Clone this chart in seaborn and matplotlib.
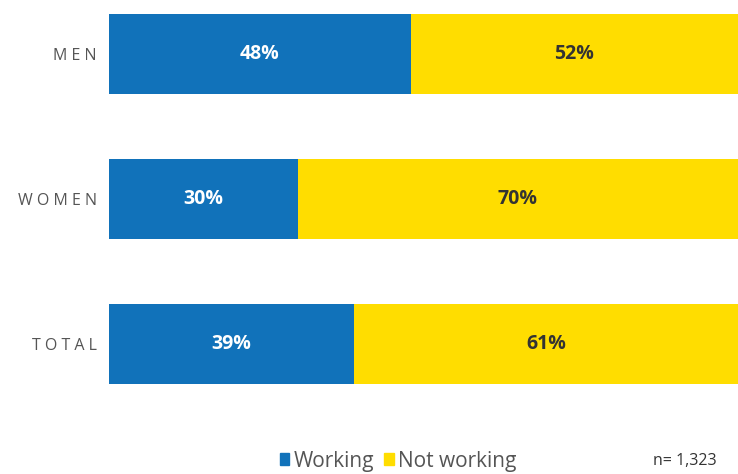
import matplotlib
matplotlib.use("Agg")
import matplotlib.pyplot as plt
from matplotlib.patches import Patch
import seaborn as sns
import pandas as pd

categories = ["MEN", "WOMEN", "TOTAL"]
working = [48, 30, 39]
not_working = [52, 70, 61]
sample_note = "n= 1,323"

BLUE = "#1172BA"
YELLOW = "#FFDD00"

sns.set_theme(style="white")
plt.rcParams["font.family"] = ["Open Sans", "DejaVu Sans"]

df = pd.DataFrame({"cat": categories, "working": working, "not_working": not_working})
df["total"] = df["working"] + df["not_working"]

fig = plt.figure(figsize=(7.38, 4.74), dpi=100)
# plotting area: from x=109px to the right edge, top edge down to 420px
ax = fig.add_axes([109 / 738, 1 - 420 / 474, 1 - 109 / 738, 420 / 474])

sns.barplot(data=df, x="total", y="cat", color=YELLOW, width=80 / 145,
            saturation=1, ax=ax, linewidth=0, orient="h")
sns.barplot(data=df, x="working", y="cat", color=BLUE, width=80 / 145,
            saturation=1, ax=ax, linewidth=0, orient="h")

ax.set_xlim(0, 100)
ax.set_ylim(2 + 76 / 145, -54 / 145)

for i, (w, n) in enumerate(zip(working, not_working)):
    ax.text(w / 2, i, f"{w}%", ha="center", va="center", color="white",
            fontsize=14, fontweight="bold")
    ax.text(w + n / 2, i, f"{n}%", ha="center", va="center", color="#333333",
            fontsize=14, fontweight="bold")

ax.set_xticks([])
ax.set_yticks(range(len(categories)))
ax.set_yticklabels([" ".join(c) for c in categories], fontsize=11.5, color="#555555")
ax.tick_params(axis="y", length=0, pad=9)
ax.set_xlabel("")
ax.set_ylabel("")
for s in ax.spines.values():
    s.set_visible(False)

handles = [Patch(color=BLUE, label="Working"), Patch(color=YELLOW, label="Not working")]
fig.legend(handles=handles, loc="center", bbox_to_anchor=(398 / 738, 1 - 461 / 474),
           ncol=2, frameon=False, fontsize=15, handlelength=0.45, handleheight=0.45,
           handletextpad=0.2, columnspacing=0.5, labelcolor="#555555",
           borderpad=0, borderaxespad=0)
fig.text(717 / 738, 1 - 461 / 474, sample_note, ha="right", va="center",
         fontsize=11.5, color="#333333")

fig.savefig("out.png", dpi=100)
